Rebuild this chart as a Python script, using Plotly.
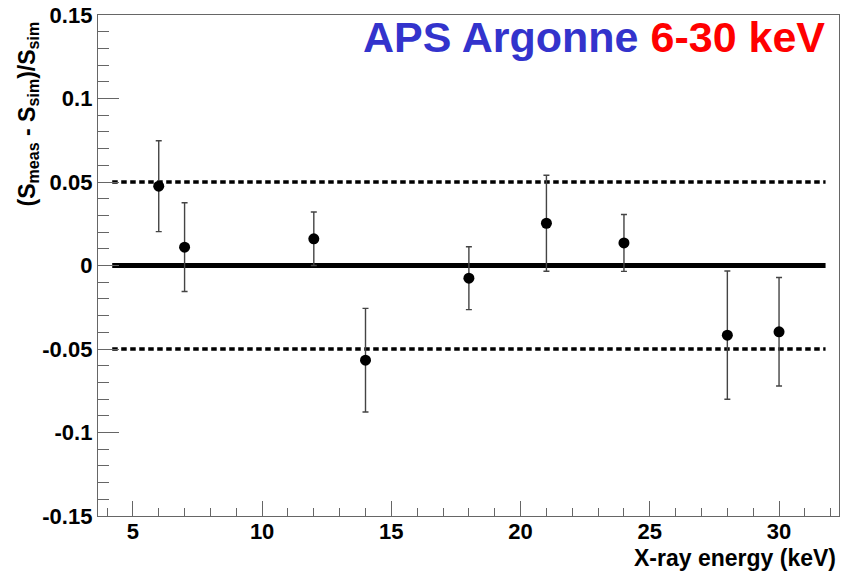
import plotly.graph_objects as go

# Data
energy_keV = [6, 7, 12, 14, 18, 21, 24, 28, 30]
rel_diff = [0.0475, 0.011, 0.016, -0.0567, -0.0076, 0.0253, 0.0135, -0.0417, -0.0397]
rel_err = [0.0272, 0.0266, 0.016, 0.031, 0.0188, 0.0287, 0.017, 0.0384, 0.0325]

ref_x = [4.2, 31.8]
zero_level = [0.0, 0.0]
upper_band = [0.05, 0.05]
lower_band = [-0.05, -0.05]

x_range = [3.65, 32.32]
y_range = [-0.15, 0.15]
x_ticks = [5, 10, 15, 20, 25, 30]
y_ticks = [-0.15, -0.1, -0.05, 0, 0.05, 0.1, 0.15]
y_ticklabels = ["-0.15", "-0.1", "-0.05", "0", "0.05", "0.1", "0.15"]

FONT = "Liberation Sans, Arial, Helvetica, sans-serif"
FRAME = "#666666"

fig = go.Figure()

fig.add_trace(go.Scatter(x=ref_x, y=zero_level, mode="lines",
                         line=dict(color="black", width=5), hoverinfo="skip"))
for lvl in (upper_band, lower_band):
    fig.add_trace(go.Scatter(x=ref_x, y=lvl, mode="lines",
                             line=dict(color="black", width=3.3, dash="5.5px,3.5px"),
                             hoverinfo="skip"))

fig.add_trace(go.Scatter(
    x=energy_keV, y=rel_diff, mode="markers",
    marker=dict(color="black", size=11),
    error_y=dict(type="data", array=rel_err, visible=True,
                 color="#444444", thickness=1.4, width=3),
))

axis_common = dict(
    showline=True, linecolor=FRAME, linewidth=1.3, mirror=True,
    ticks="inside", tickcolor=FRAME, tickwidth=1.3,
    showgrid=False, zeroline=False,
    tickfont=dict(family=FONT, size=22, color="black", weight="bold"),
)

fig.update_xaxes(range=x_range, tickvals=x_ticks, ticktext=[str(v) for v in x_ticks],
                 ticklen=15, ticklabelstandoff=-5,
                 minor=dict(ticks="inside", dtick=1, ticklen=7.5, tickcolor=FRAME, tickwidth=1.3),
                 **axis_common)
fig.update_yaxes(range=y_range, tickvals=y_ticks, ticktext=y_ticklabels,
                 ticklen=21,
                 minor=dict(ticks="inside", dtick=0.01, ticklen=11, tickcolor=FRAME, tickwidth=1.3),
                 **axis_common)

fig.add_annotation(
    text="(S<sub>meas</sub> - S<sub>sim</sub>)/S<sub>sim</sub>",
    textangle=-90, xref="paper", yref="paper", x=0, y=1,
    xanchor="center", yanchor="top", xshift=-70, yshift=-5,
    showarrow=False, font=dict(family=FONT, size=23, color="black", weight="bold"),
)
fig.add_annotation(
    text="X-ray energy (keV)", xref="paper", yref="paper", x=1, y=0,
    xanchor="right", yanchor="top", xshift=-1, yshift=-27,
    showarrow=False, font=dict(family=FONT, size=23, color="black", weight="bold"),
)
fig.add_annotation(
    text="<span style='color:#3333cc'>APS Argonne</span> <span style='color:#ff0000'>6-30 keV</span>",
    xref="paper", yref="paper", x=1, y=1, xanchor="right", yanchor="top",
    xshift=-12, yshift=4, showarrow=False,
    font=dict(family=FONT, size=43, weight="bold"),
)

fig.update_layout(
    width=842, height=571, showlegend=False,
    margin=dict(l=98, r=3, t=15, b=55),
    paper_bgcolor="white", plot_bgcolor="white",
)

fig.write_html("out.html", config={"displayModeBar": False},
               post_script="document.body.style.margin='0';document.body.style.overflow='hidden';")
